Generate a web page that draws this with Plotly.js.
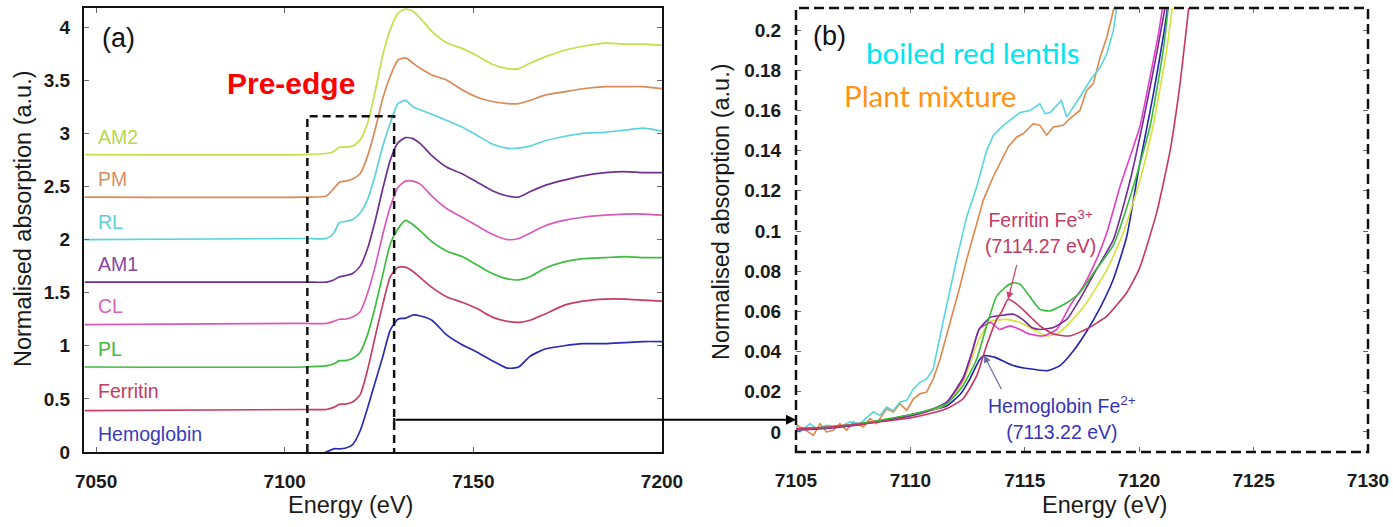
<!DOCTYPE html>
<html>
<head>
<meta charset="utf-8">
<script src="https://cdn.plot.ly/plotly-3.0.1.min.js"></script>
<style>
  html, body { margin: 0; padding: 0; background: #ffffff; }
  #chart { width: 1393px; height: 527px; }
</style>
</head>
<body>
<div id="chart"></div>
<script>
// ---------- Panel (a): full Fe K-edge XANES, stacked with vertical offsets ----------
const energyWide = [7047, 7105, 7111, 7113, 7114.5, 7116, 7118, 7120, 7122, 7124, 7126, 7128, 7130, 7132,
  7134, 7136, 7139, 7143, 7147, 7151, 7155, 7159, 7162, 7165, 7169, 7174, 7179, 7185, 7190, 7195, 7200];

const hemoglobinWide = [-0.05, -0.04, 0.00, 0.03, 0.03, 0.035, 0.07, 0.20, 0.42, 0.66, 0.90, 1.15, 1.25, 1.26,
  1.29, 1.28, 1.24, 1.10, 1.01, 0.94, 0.86, 0.79, 0.80, 0.90, 0.97, 1.00, 1.02, 1.02, 1.03, 1.04, 1.04];
const ferritinWide = [0.39, 0.40, 0.40, 0.42, 0.45, 0.45, 0.47, 0.54, 0.78, 1.09, 1.39, 1.65, 1.74, 1.74,
  1.70, 1.64, 1.55, 1.46, 1.41, 1.35, 1.27, 1.23, 1.22, 1.24, 1.30, 1.38, 1.42, 1.44, 1.44, 1.43, 1.42];
const plWide = [0.80, 0.80, 0.81, 0.83, 0.86, 0.86, 0.88, 0.94, 1.11, 1.37, 1.67, 1.96, 2.10, 2.18,
  2.14, 2.08, 1.98, 1.89, 1.84, 1.76, 1.68, 1.63, 1.62, 1.65, 1.73, 1.79, 1.82, 1.83, 1.84, 1.83, 1.83];
const clWide = [1.20, 1.21, 1.21, 1.23, 1.25, 1.25, 1.27, 1.32, 1.50, 1.75, 2.05, 2.31, 2.49, 2.55,
  2.55, 2.52, 2.41, 2.29, 2.21, 2.13, 2.05, 2.00, 2.01, 2.06, 2.13, 2.18, 2.21, 2.23, 2.24, 2.24, 2.23];
const am1Wide = [1.60, 1.60, 1.60, 1.62, 1.65, 1.66, 1.68, 1.75, 1.92, 2.18, 2.48, 2.75, 2.91, 2.96,
  2.95, 2.90, 2.79, 2.68, 2.62, 2.54, 2.46, 2.41, 2.40, 2.45, 2.51, 2.56, 2.60, 2.63, 2.64, 2.63, 2.63];
const rlWide = [2.00, 2.01, 2.01, 2.06, 2.16, 2.17, 2.19, 2.25, 2.38, 2.61, 2.88, 3.10, 3.28, 3.31,
  3.25, 3.22, 3.18, 3.12, 3.06, 2.98, 2.90, 2.86, 2.86, 2.88, 2.93, 2.97, 3.00, 3.01, 3.03, 3.05, 3.02];
const pmWide = [2.40, 2.40, 2.41, 2.48, 2.54, 2.55, 2.57, 2.62, 2.79, 3.04, 3.33, 3.54, 3.69, 3.71,
  3.66, 3.61, 3.55, 3.50, 3.41, 3.34, 3.30, 3.28, 3.28, 3.31, 3.36, 3.39, 3.42, 3.44, 3.44, 3.44, 3.42];
const am2Wide = [2.80, 2.80, 2.81, 2.83, 2.87, 2.87, 2.88, 2.94, 3.10, 3.40, 3.74, 3.98, 4.13, 4.17,
  4.15, 4.08, 3.96, 3.85, 3.80, 3.73, 3.65, 3.61, 3.61, 3.66, 3.72, 3.78, 3.82, 3.85, 3.84, 3.84, 3.83];

const sampleNames = ['Hemoglobin', 'Ferritin', 'PL', 'CL', 'AM1', 'RL', 'PM', 'AM2'];
const stackOffsets = [0, 0.4, 0.8, 1.2, 1.6, 2.0, 2.4, 2.8];

// Energy window of the pre-edge region that is enlarged in panel (b)
const preEdgeWindow = [7106, 7129];
const preEdgeBoxTop = 3.16;

// ---------- Panel (b): pre-edge region, no offsets ----------
const rlZoomE = [7105.0, 7105.17, 7105.61, 7105.9, 7106.34, 7106.92, 7107.36, 7107.8, 7108.38, 7108.67, 7108.96,
  7109.25, 7109.54, 7109.84, 7110.13, 7110.42, 7110.71, 7111.0, 7111.3, 7111.66, 7112.02, 7112.46, 7112.9,
  7113.33, 7113.63, 7113.99, 7114.35, 7114.79, 7115.23, 7115.66, 7115.88, 7116.1, 7116.6, 7116.83, 7117.41,
  7117.85, 7118.29, 7118.58, 7118.87, 7119.0, 7119.3];
const rlZoomMu = [0.003, 0.000, 0.0041, 0.0016, 0.0033, 0.0025, 0.005, 0.0041, 0.010, 0.0082, 0.0124,
  0.0107, 0.0148, 0.0157, 0.0214, 0.0247, 0.0264, 0.0313, 0.048, 0.0676, 0.0858, 0.107, 0.122,
  0.140, 0.1477, 0.1518, 0.155, 0.159, 0.160, 0.1634, 0.1584, 0.159, 0.165, 0.1567, 0.1667,
  0.1749, 0.1815, 0.1881, 0.1997, 0.2096, 0.235];

const pmZoomE = [7105.03, 7105.32, 7105.76, 7106.05, 7106.34, 7106.63, 7106.92, 7107.21, 7107.5, 7107.94, 7108.23,
  7108.52, 7108.96, 7109.25, 7109.54, 7109.84, 7110.13, 7110.42, 7110.71, 7111.0, 7111.3, 7111.66, 7111.88,
  7112.17, 7112.46, 7112.75, 7113.19, 7113.62, 7113.92, 7114.06, 7114.28, 7114.65, 7114.94, 7115.37, 7115.66,
  7115.95, 7116.25, 7116.68, 7116.97, 7117.41, 7117.7, 7117.99, 7118.29, 7118.58, 7118.87, 7119.1];
const pmZoomMu = [0.0033, 0.0016, -0.0017, 0.0041, 0.0, 0.0008, 0.0041, 0.0008, 0.005, 0.0025, 0.0066,
  0.0041, 0.0115, 0.0099, 0.014, 0.0107, 0.0165, 0.019, 0.0198, 0.0264, 0.0363, 0.0512, 0.0594,
  0.0726, 0.0858, 0.098, 0.1155, 0.127, 0.1336, 0.137, 0.142, 0.1468, 0.1485, 0.1534, 0.1526,
  0.1477, 0.1518, 0.1526, 0.156, 0.160, 0.170, 0.1732, 0.1864, 0.1963, 0.2096, 0.225];

const plZoomE = [7105, 7106, 7107, 7108, 7109, 7110, 7111, 7111.6, 7112.3, 7112.9, 7113.33, 7113.77, 7114.2,
  7114.5, 7114.8, 7115.2, 7115.66, 7116.1, 7116.83, 7117.4, 7118.0, 7118.87, 7119.74, 7120.47, 7121.05, 7121.4];
const plZoomMu = [0.0015, 0.002, 0.003, 0.0045, 0.0065, 0.0085, 0.0115, 0.014, 0.023, 0.0363, 0.0528, 0.0676, 0.0725,
  0.0742, 0.0734, 0.0676, 0.061, 0.0602, 0.0643, 0.0693, 0.079, 0.093, 0.122, 0.152, 0.19, 0.225];

const clZoomE = [7105, 7106, 7107, 7108, 7109, 7110, 7111, 7111.6, 7112.3, 7112.7, 7113.0, 7113.5, 7113.9, 7114.35,
  7114.79, 7115.2, 7115.8, 7116.4, 7116.97, 7117.56, 7118.14, 7118.58, 7119.16, 7119.6, 7120.03, 7120.47, 7120.84, 7121.2];
const clZoomMu = [0.0015, 0.002, 0.003, 0.0045, 0.006, 0.008, 0.0112, 0.015, 0.026, 0.040, 0.051, 0.0545, 0.051, 0.0528,
  0.051, 0.0487, 0.0478, 0.051, 0.0627, 0.0726, 0.086, 0.099, 0.122, 0.137, 0.152, 0.1765, 0.198, 0.225];

const am1ZoomE = [7105, 7106, 7107, 7108, 7109, 7110, 7111, 7111.6, 7112.3, 7112.7, 7113.0, 7113.5, 7114.0, 7114.5,
  7114.9, 7115.3, 7115.66, 7116.25, 7116.83, 7117.4, 7118.14, 7118.87, 7119.6, 7120.18, 7120.76, 7121.35];
const am1ZoomMu = [0.001, 0.0015, 0.0025, 0.004, 0.006, 0.008, 0.0115, 0.015, 0.027, 0.040, 0.051, 0.057, 0.058, 0.0586,
  0.056, 0.052, 0.051, 0.052, 0.056, 0.066, 0.081, 0.0957, 0.125, 0.155, 0.188, 0.225];

const am2ZoomE = [7105, 7106, 7107, 7108, 7109, 7110, 7111, 7111.6, 7112.3, 7113.0, 7113.5, 7114.2, 7114.79, 7115.37,
  7115.95, 7116.5, 7117.1, 7117.7, 7118.6, 7119.3, 7120.0, 7120.6, 7121.2, 7121.6];
const am2ZoomMu = [0.0015, 0.002, 0.003, 0.0045, 0.006, 0.008, 0.011, 0.014, 0.025, 0.046, 0.055, 0.056, 0.0545, 0.051,
  0.0478, 0.0495, 0.056, 0.0643, 0.081, 0.099, 0.124, 0.152, 0.19, 0.225];

// Pre-edge centroid energies quoted for the two reference proteins
const ferritinPeakE = 7114.27;
const ferritinPeakMu = 0.066;
const hemoglobinPeakE = 7113.22;
const hemoglobinPeakMu = 0.038;

const ferritinZoomE = [7105, 7106, 7107, 7108, 7109, 7110, 7111, 7111.6, 7112.3, 7112.9, 7113.33, 7113.77, 7114.0,
  ferritinPeakE, 7114.6, 7115.0, 7115.66, 7116.25, 7116.97, 7117.7, 7118.6, 7119.45, 7120.0, 7120.76, 7121.35, 7121.78, 7122.3];
const ferritinZoomMu = [0.0015, 0.002, 0.003, 0.004, 0.0055, 0.007, 0.0095, 0.0116, 0.0165, 0.028, 0.043, 0.056, 0.060,
  ferritinPeakMu, 0.064, 0.060, 0.0528, 0.0487, 0.0478, 0.0512, 0.0578, 0.0693, 0.081, 0.109, 0.14, 0.173, 0.225];

const hemoglobinZoomE = [7105, 7106, 7107, 7108, 7109, 7110, 7111, 7111.6, 7112.2, 7112.6, 7113.0, hemoglobinPeakE,
  7113.7, 7114.5, 7115.2, 7116.0, 7116.54, 7117.1, 7117.7, 7118.3, 7118.87, 7119.45, 7120.0, 7120.6, 7121.1, 7121.4];
const hemoglobinZoomMu = [0.0015, 0.002, 0.003, 0.0045, 0.006, 0.0085, 0.011, 0.013, 0.019, 0.0264, 0.0355, hemoglobinPeakMu,
  0.0371, 0.033, 0.0314, 0.0305, 0.033, 0.040, 0.050, 0.062, 0.076, 0.097, 0.132, 0.167, 0.2, 0.225];

// ---------- Styling ----------
const FONT = 'Liberation Sans, Arial, Helvetica, sans-serif';
const lineColors = {
  Hemoglobin: '#2a2ab2', Ferritin: '#c83d62', PL: '#3dbd3d', CL: '#d95bb8',
  AM1: '#6f3190', RL: '#5cd3db', PM: '#d98a58', AM2: '#c2e04a'
};
const labelColors = {
  Hemoglobin: '#3b3bbd', Ferritin: '#c4395f', PL: '#3cba3c', CL: '#d862bd',
  AM1: '#8a46a3', RL: '#5ecfd8', PM: '#d98d5f', AM2: '#b7d84a'
};
const zoomColors = {
  Hemoglobin: '#2323b0', Ferritin: '#c8365f', PL: '#38bb38', CL: '#e040c4',
  AM1: '#742c98', RL: '#58d6de', PM: '#e0874a', AM2: '#d6e23a'
};

const wideSeries = {
  Hemoglobin: hemoglobinWide, Ferritin: ferritinWide, PL: plWide, CL: clWide,
  AM1: am1Wide, RL: rlWide, PM: pmWide, AM2: am2Wide
};

const traces = [];
sampleNames.forEach(name => {
  traces.push({
    x: energyWide, y: wideSeries[name], xaxis: 'x', yaxis: 'y',
    type: 'scatter', mode: 'lines', name: name, hoverinfo: 'skip',
    line: { color: lineColors[name], width: 1.7, shape: 'spline', smoothing: 0.6 }
  });
});

const zoomSeries = [
  ['PM', pmZoomE, pmZoomMu, 'linear'],
  ['RL', rlZoomE, rlZoomMu, 'linear'],
  ['Hemoglobin', hemoglobinZoomE, hemoglobinZoomMu, 'spline'],
  ['AM2', am2ZoomE, am2ZoomMu, 'spline'],
  ['CL', clZoomE, clZoomMu, 'spline'],
  ['AM1', am1ZoomE, am1ZoomMu, 'spline'],
  ['PL', plZoomE, plZoomMu, 'spline'],
  ['Ferritin', ferritinZoomE, ferritinZoomMu, 'spline']
];
zoomSeries.forEach(([name, xs, ys, shape]) => {
  traces.push({
    x: xs, y: ys, xaxis: 'x2', yaxis: 'y2',
    type: 'scatter', mode: 'lines', name: name + ' (pre-edge)', hoverinfo: 'skip',
    line: { color: zoomColors[name], width: 1.6, shape: shape, smoothing: 0.5 }
  });
});

// plot area in pixels -> paper fractions for free-floating text
const M = { l: 84, r: 25, t: 8, b: 75 };
const W = 1393, H = 527;
const px = v => (v - M.l) / (W - M.l - M.r);
const py = v => (H - M.b - v) / (H - M.t - M.b);

const tickFont = { family: FONT, size: 19, color: '#1a1a1a', weight: 'bold' };
const axisCommon = {
  ticks: 'inside', ticklen: 5, tickwidth: 1, tickcolor: '#6a6a6a',
  showgrid: false, zeroline: false, tickfont: tickFont, fixedrange: true
};

const annotations = [];

// stacked sample labels in panel (a)
sampleNames.forEach((name, i) => {
  annotations.push({
    xref: 'x', yref: 'y', x: 7050, y: stackOffsets[i] + 0.17,
    text: name, showarrow: false, xanchor: 'left', yanchor: 'middle',
    font: { family: FONT, size: 19.5, color: labelColors[name] }
  });
});

annotations.push(
  { xref: 'paper', yref: 'paper', x: px(100), y: py(38), text: '(a)', showarrow: false,
    xanchor: 'left', yanchor: 'middle', font: { family: FONT, size: 27, color: '#111' } },
  { xref: 'paper', yref: 'paper', x: px(811), y: py(36), text: '(b)', showarrow: false,
    xanchor: 'left', yanchor: 'middle', font: { family: FONT, size: 27, color: '#111' } },
  { xref: 'paper', yref: 'paper', x: px(291), y: py(83), text: 'Pre-edge', showarrow: false,
    xanchor: 'center', yanchor: 'middle', font: { family: FONT, size: 30, color: '#ff0000', weight: 'bold' } },
  { xref: 'paper', yref: 'paper', x: px(864), y: py(53), text: 'boiled red lentils', showarrow: false,
    xanchor: 'left', yanchor: 'middle', font: { family: 'Lato, Open Sans, sans-serif', size: 29.5, color: '#00e6f0' } },
  { xref: 'paper', yref: 'paper', x: px(842), y: py(95), text: 'Plant mixture', showarrow: false,
    xanchor: 'left', yanchor: 'middle', font: { family: 'Lato, Open Sans, sans-serif', size: 29.5, color: '#ff9414' } },
  // axis titles
  { xref: 'paper', yref: 'paper', x: px(350), y: py(505), text: 'Energy (eV)', showarrow: false,
    xanchor: 'center', yanchor: 'middle', font: { family: FONT, size: 23.5, color: '#1a1a1a' } },
  { xref: 'paper', yref: 'paper', x: px(1104), y: py(505), text: 'Energy (eV)', showarrow: false,
    xanchor: 'center', yanchor: 'middle', font: { family: FONT, size: 23.5, color: '#1a1a1a' } },
  { xref: 'paper', yref: 'paper', x: px(23), y: py(219), text: 'Normalised absorption (a.u.)', showarrow: false,
    textangle: -90, xanchor: 'center', yanchor: 'middle', font: { family: FONT, size: 23.5, color: '#1a1a1a' } },
  { xref: 'paper', yref: 'paper', x: px(721), y: py(212), text: 'Normalised absorption (a.u.)', showarrow: false,
    textangle: -90, xanchor: 'center', yanchor: 'middle', font: { family: FONT, size: 23.5, color: '#1a1a1a' } },
  // peak call-outs in panel (b)
  { xref: 'paper', yref: 'paper', x: px(1040), y: py(232), text: 'Ferritin Fe<sup>3+</sup><br>(7114.27 eV)',
    showarrow: false, xanchor: 'center', yanchor: 'middle', align: 'center',
    font: { family: FONT, size: 19.5, color: '#c23a63' } },
  { xref: 'x2', yref: 'y2', x: ferritinPeakE, y: ferritinPeakMu, text: '', showarrow: true,
    ax: 9, ay: -36, arrowhead: 2, arrowsize: 1.2, arrowwidth: 1.2, arrowcolor: '#d0406c', standoff: 0 },
  { xref: 'paper', yref: 'paper', x: px(1062), y: py(418), text: 'Hemoglobin Fe<sup>2+</sup><br>(7113.22 eV)',
    showarrow: false, xanchor: 'center', yanchor: 'middle', align: 'center',
    font: { family: FONT, size: 19.5, color: '#3535bb' } },
  { xref: 'x2', yref: 'y2', x: hemoglobinPeakE, y: hemoglobinPeakMu, text: '', showarrow: true,
    ax: 18, ay: 35, arrowhead: 2, arrowsize: 1.2, arrowwidth: 1.2, arrowcolor: '#6a6aa8', standoff: 0 },
  // link from the pre-edge window in (a) to panel (b)
  { xref: 'x2', yref: 'y2', x: 7105, y: 0.0061, text: '', showarrow: true,
    ax: -402, ay: 0, arrowhead: 2, arrowsize: 1, arrowwidth: 2, arrowcolor: '#000', standoff: 0 }
);

const shapes = [
  // dashed pre-edge window in (a)
  { type: 'path', xref: 'x', yref: 'y',
    path: `M ${preEdgeWindow[0]},0 L ${preEdgeWindow[0]},${preEdgeBoxTop} L ${preEdgeWindow[1]},${preEdgeBoxTop} L ${preEdgeWindow[1]},0`,
    line: { color: '#111', width: 2.5, dash: '8px,5px' } },
  // short bar where the link arrow starts
  { type: 'line', xref: 'x', yref: 'y', x0: preEdgeWindow[1], x1: preEdgeWindow[1], y0: 0.25, y1: 0.32,
    line: { color: '#111', width: 2 } },
  // dashed frame around (b)
  { type: 'rect', xref: 'x2 domain', yref: 'y2 domain', x0: 0, x1: 1, y0: 0, y1: 1,
    line: { color: '#111', width: 2.5, dash: '10px,5px' } }
];

const layout = {
  width: W, height: H,
  margin: M,
  paper_bgcolor: '#ffffff', plot_bgcolor: '#ffffff',
  showlegend: false,
  xaxis: Object.assign({}, axisCommon, {
    domain: [0, px(662)], anchor: 'y', range: [7046.8, 7200],
    tickvals: [7050, 7100, 7150, 7200], ticklabelstandoff: 11,
    showline: true, linecolor: '#111', linewidth: 2, mirror: 'ticks'
  }),
  yaxis: Object.assign({}, axisCommon, {
    domain: [0, 1], anchor: 'x', range: [0, 4.18],
    tick0: 0, dtick: 0.5, ticklabelstandoff: 8,
    showline: true, linecolor: '#111', linewidth: 2, mirror: 'ticks'
  }),
  xaxis2: Object.assign({}, axisCommon, {
    domain: [px(796), 1], anchor: 'y2', range: [7105, 7130],
    tick0: 7105, dtick: 5, ticklabelstandoff: 11,
    showline: true, linecolor: 'rgba(0,0,0,0)', linewidth: 1, mirror: 'ticks'
  }),
  yaxis2: Object.assign({}, axisCommon, {
    domain: [0, 1], anchor: 'x2', range: [-0.01, 0.211],
    tick0: 0, dtick: 0.02, ticklabelstandoff: 10,
    showline: true, linecolor: 'rgba(0,0,0,0)', linewidth: 1, mirror: 'ticks'
  }),
  annotations: annotations,
  shapes: shapes
};

Plotly.newPlot('chart', traces, layout, { displayModeBar: false, staticPlot: true });
</script>
</body>
</html>
